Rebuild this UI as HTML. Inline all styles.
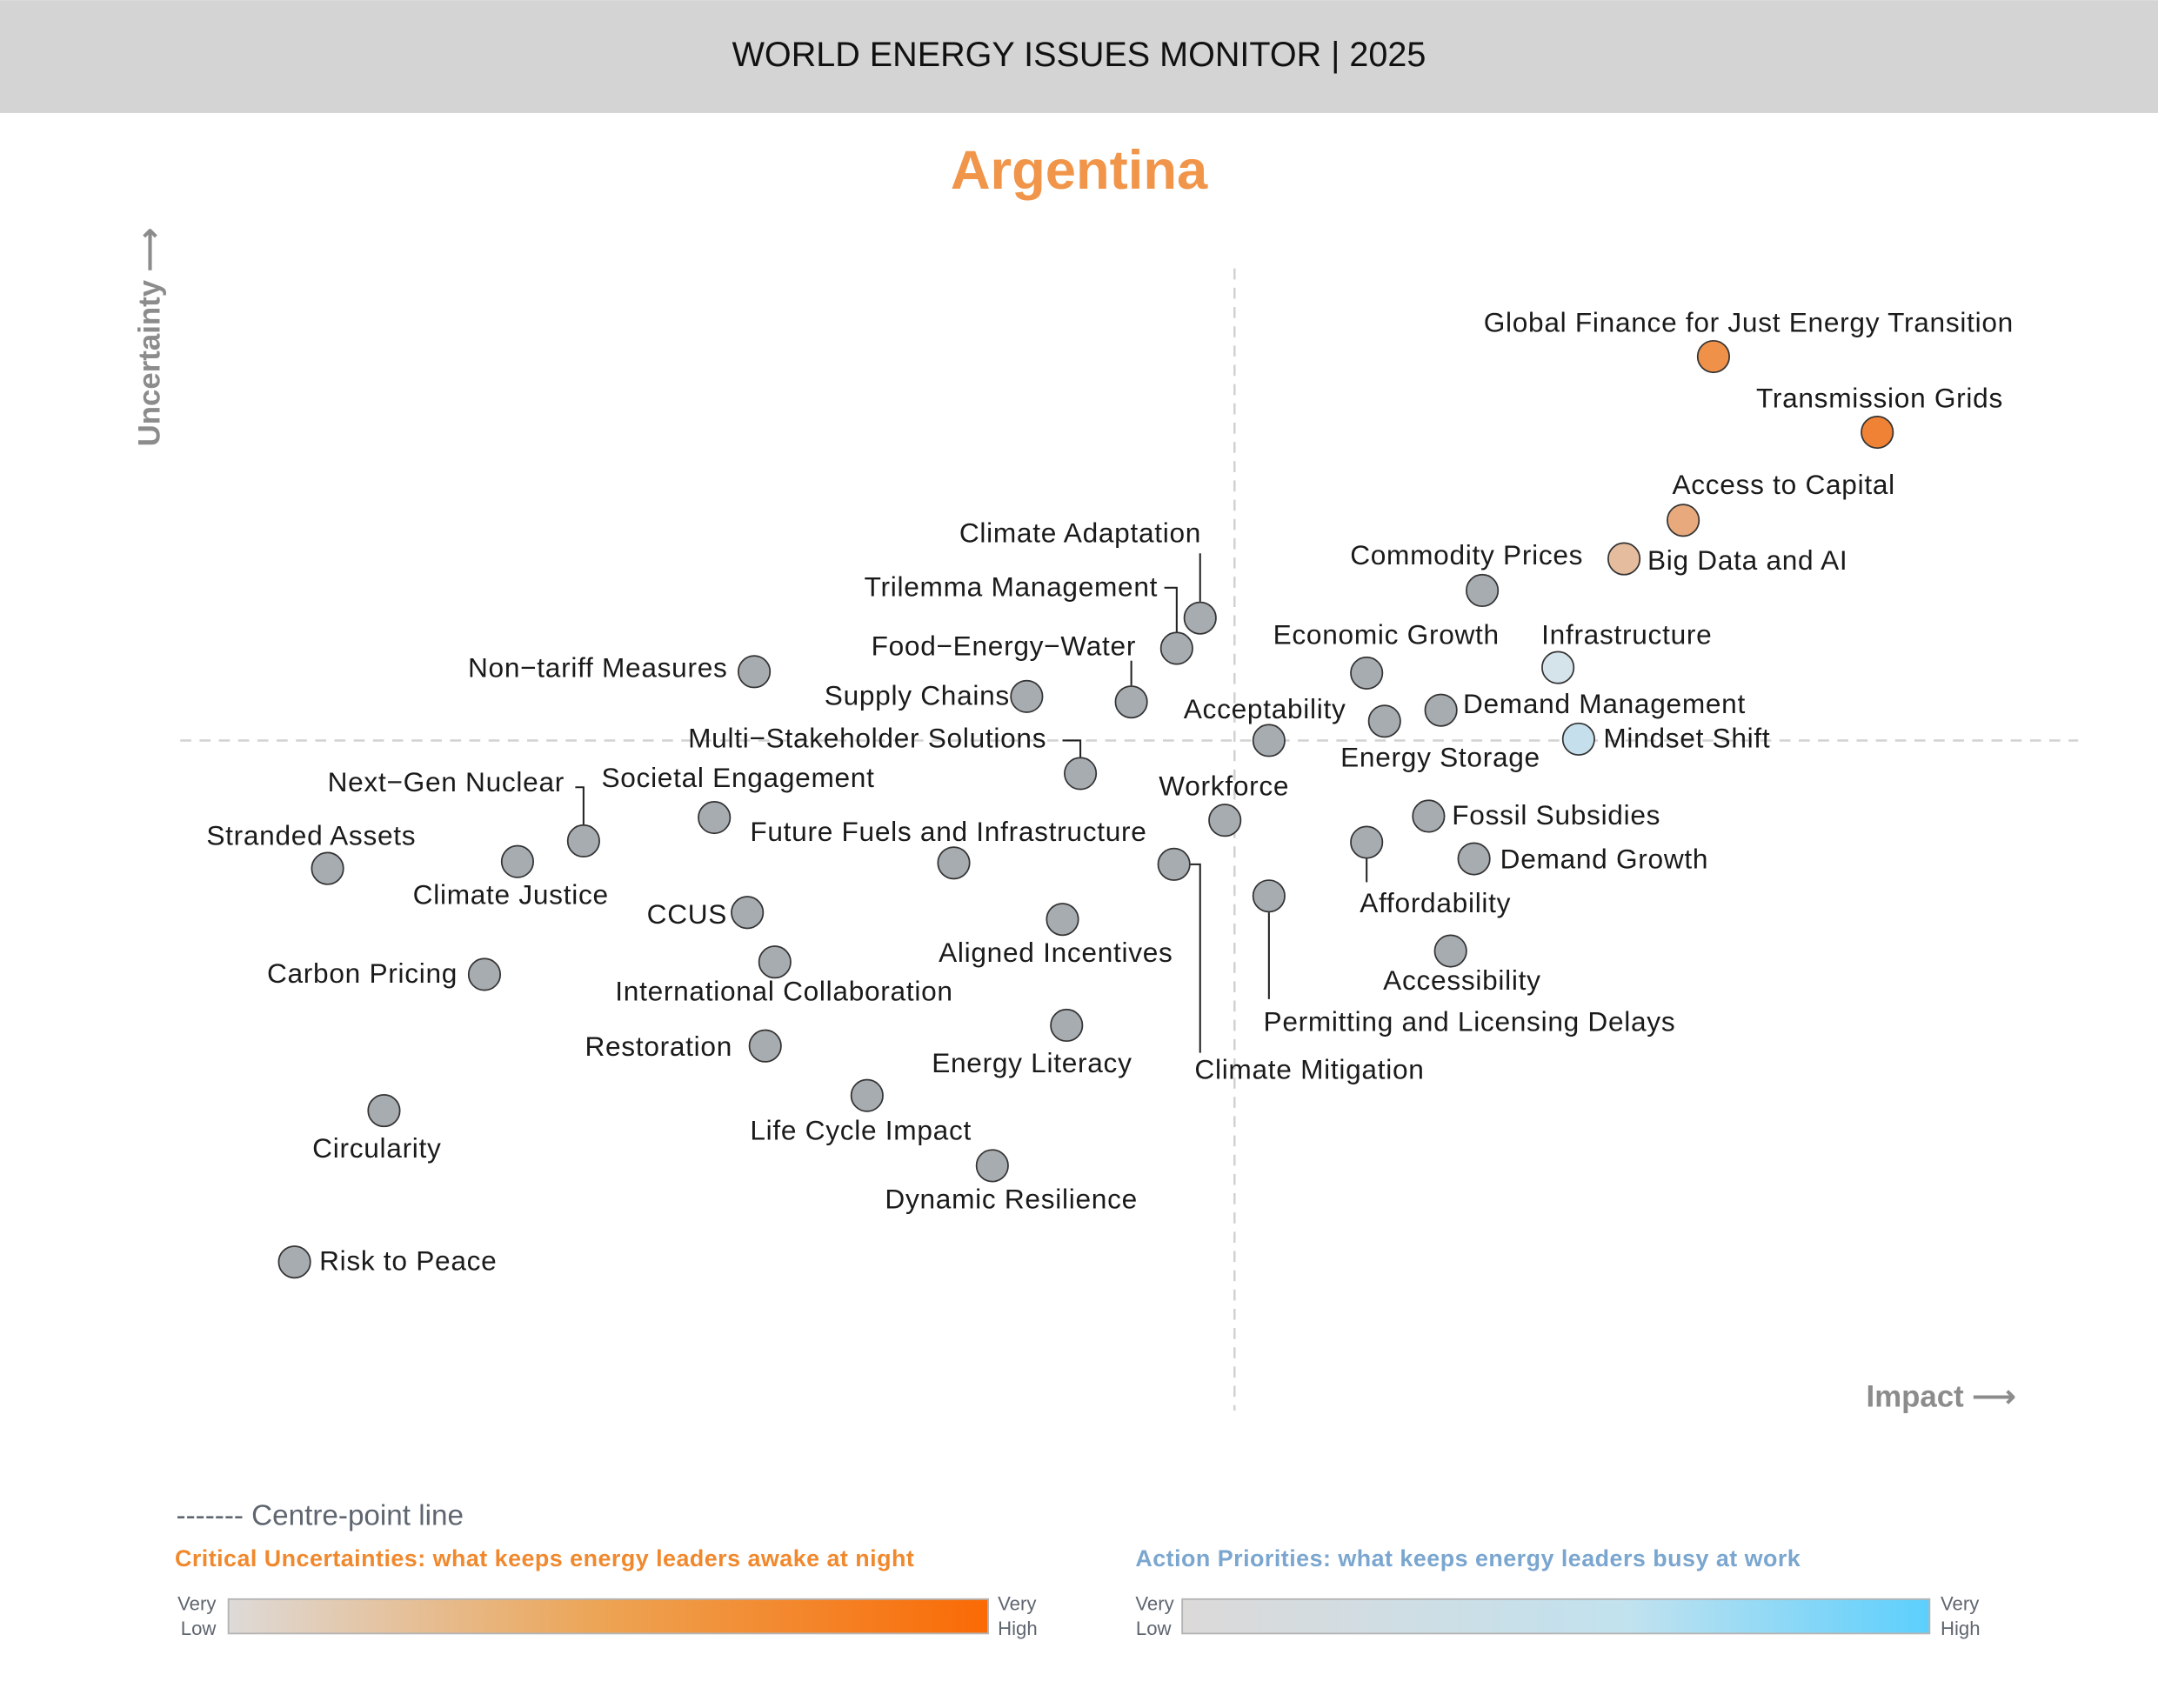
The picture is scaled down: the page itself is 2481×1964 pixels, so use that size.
<!DOCTYPE html>
<html><head><meta charset="utf-8"><style>
html,body{margin:0;padding:0;background:#fff}
svg{display:block}
text{font-family:"Liberation Sans",sans-serif}
.l{font-size:20px;fill:#1a1a1a;letter-spacing:0.45px}
.ln{stroke:#222;stroke-width:1.3;fill:none}
circle{stroke:#333;stroke-width:1.1}
.g{fill:#a7acb1}
</style></head><body>
<svg width="2481" height="1964" viewBox="0 0 1568 1241" xmlns="http://www.w3.org/2000/svg">
<defs>
<linearGradient id="go" x1="0" x2="1"><stop offset="0" stop-color="#dedad8"/><stop offset="0.5" stop-color="#eda352"/><stop offset="1" stop-color="#fa6a05"/></linearGradient>
<linearGradient id="gb" x1="0" x2="1"><stop offset="0" stop-color="#dcd9d9"/><stop offset="0.6" stop-color="#c1e2ef"/><stop offset="1" stop-color="#5ccffd"/></linearGradient>
</defs>
<rect x="0" y="0" width="1568" height="82" fill="#d4d4d4"/>
<text x="784" y="48" text-anchor="middle" font-size="25" fill="#111">WORLD ENERGY ISSUES MONITOR | 2025</text>
<text x="784" y="137" text-anchor="middle" font-size="40" font-weight="bold" fill="#f0954a">Argentina</text>
<line x1="131" y1="538" x2="1510" y2="538" stroke="#d2d2d2" stroke-width="1.6" stroke-dasharray="8,6"/>
<line x1="897" y1="195" x2="897" y2="1025" stroke="#d2d2d2" stroke-width="1.6" stroke-dasharray="8,6"/>
<text transform="translate(116,245) rotate(-90)" text-anchor="middle" font-size="22" font-weight="bold" fill="#8c8c8c">Uncertainty ⟶</text>
<text x="1356" y="1022" font-size="22" font-weight="bold" fill="#8c8c8c">Impact ⟶</text>

<path class="ln" d="M872,402 V437"/>
<path class="ln" d="M846,427 H855 V459"/>
<path class="ln" d="M822,480 V498"/>
<path class="ln" d="M772,538 H785 V550"/>
<path class="ln" d="M418,572 H424 V599"/>
<path class="ln" d="M853,628 H872 V765"/>
<path class="ln" d="M922,663 V726"/>
<path class="ln" d="M993,624 V641"/>

<g>
<circle cx="1245" cy="259" r="11.5" fill="#f0914a"/>
<circle cx="1364" cy="314" r="11.5" fill="#f08236"/>
<circle cx="1223" cy="378" r="11.5" fill="#e8a97c"/>
<circle cx="1180" cy="406" r="11.5" fill="#e5bc9e"/>
<circle cx="1132" cy="485" r="11.5" fill="#d5e3ea"/>
<circle cx="1147" cy="537" r="11.5" fill="#c5e0ec"/>
<circle class="g" cx="1077" cy="429" r="11.5"/>
<circle class="g" cx="1047" cy="516" r="11.5"/>
<circle class="g" cx="993" cy="489" r="11.5"/>
<circle class="g" cx="1006" cy="524" r="11.5"/>
<circle class="g" cx="922" cy="538" r="11.5"/>
<circle class="g" cx="872" cy="449" r="11.5"/>
<circle class="g" cx="855" cy="471" r="11.5"/>
<circle class="g" cx="822" cy="510" r="11.5"/>
<circle class="g" cx="746" cy="506" r="11.5"/>
<circle class="g" cx="548" cy="488" r="11.5"/>
<circle class="g" cx="785" cy="562" r="11.5"/>
<circle class="g" cx="519" cy="594" r="11.5"/>
<circle class="g" cx="424" cy="611" r="11.5"/>
<circle class="g" cx="238" cy="631" r="11.5"/>
<circle class="g" cx="376" cy="626" r="11.5"/>
<circle class="g" cx="693" cy="627" r="11.5"/>
<circle class="g" cx="890" cy="596" r="11.5"/>
<circle class="g" cx="853" cy="628" r="11.5"/>
<circle class="g" cx="922" cy="651" r="11.5"/>
<circle class="g" cx="1038" cy="593" r="11.5"/>
<circle class="g" cx="993" cy="612" r="11.5"/>
<circle class="g" cx="1071" cy="624" r="11.5"/>
<circle class="g" cx="1054" cy="691" r="11.5"/>
<circle class="g" cx="543" cy="663" r="11.5"/>
<circle class="g" cx="772" cy="668" r="11.5"/>
<circle class="g" cx="563" cy="699" r="11.5"/>
<circle class="g" cx="352" cy="708" r="11.5"/>
<circle class="g" cx="556" cy="760" r="11.5"/>
<circle class="g" cx="775" cy="745" r="11.5"/>
<circle class="g" cx="630" cy="796" r="11.5"/>
<circle class="g" cx="279" cy="807" r="11.5"/>
<circle class="g" cx="721" cy="847" r="11.5"/>
<circle class="g" cx="214" cy="917" r="11.5"/>
</g>

<g>
<text class="l" x="1078" y="241">Global Finance for Just Energy Transition</text>
<text class="l" x="1276" y="296">Transmission Grids</text>
<text class="l" x="1215" y="359">Access to Capital</text>
<text class="l" x="1197" y="414">Big Data and AI</text>
<text class="l" x="981" y="410">Commodity Prices</text>
<text class="l" x="1120" y="468">Infrastructure</text>
<text class="l" x="1063" y="518">Demand Management</text>
<text class="l" x="1165" y="543">Mindset Shift</text>
<text class="l" x="925" y="468">Economic Growth</text>
<text class="l" x="974" y="557">Energy Storage</text>
<text class="l" x="860" y="522">Acceptability</text>
<text class="l" x="697" y="394">Climate Adaptation</text>
<text class="l" x="628" y="433">Trilemma Management</text>
<text class="l" x="633" y="476">Food−Energy−Water</text>
<text class="l" x="599" y="512">Supply Chains</text>
<text class="l" x="340" y="492">Non−tariff Measures</text>
<text class="l" x="500" y="543">Multi−Stakeholder Solutions</text>
<text class="l" x="437" y="572">Societal Engagement</text>
<text class="l" x="238" y="575">Next−Gen Nuclear</text>
<text class="l" x="150" y="614">Stranded Assets</text>
<text class="l" x="300" y="657">Climate Justice</text>
<text class="l" x="545" y="611">Future Fuels and Infrastructure</text>
<text class="l" x="842" y="578">Workforce</text>
<text class="l" x="868" y="784">Climate Mitigation</text>
<text class="l" x="918" y="749">Permitting and Licensing Delays</text>
<text class="l" x="1055" y="599">Fossil Subsidies</text>
<text class="l" x="988" y="663">Affordability</text>
<text class="l" x="1090" y="631">Demand Growth</text>
<text class="l" x="1005" y="719">Accessibility</text>
<text class="l" x="470" y="671">CCUS</text>
<text class="l" x="682" y="699">Aligned Incentives</text>
<text class="l" x="447" y="727">International Collaboration</text>
<text class="l" x="194" y="714">Carbon Pricing</text>
<text class="l" x="425" y="767">Restoration</text>
<text class="l" x="677" y="779">Energy Literacy</text>
<text class="l" x="545" y="828">Life Cycle Impact</text>
<text class="l" x="227" y="841">Circularity</text>
<text class="l" x="643" y="878">Dynamic Resilience</text>
<text class="l" x="232" y="923">Risk to Peace</text>
</g>

<text x="128" y="1108" font-size="21" fill="#5f6670">------- Centre-point line</text>
<text x="127" y="1138" font-size="17" font-weight="bold" fill="#f0892e" letter-spacing="0.3">Critical Uncertainties: what keeps energy leaders awake at night</text>
<text x="825" y="1138" font-size="17" font-weight="bold" fill="#7aa6cf" letter-spacing="0.3">Action Priorities: what keeps energy leaders busy at work</text>
<rect x="166" y="1162" width="552" height="25" fill="url(#go)" stroke="#b5b5b5" stroke-width="1.2"/>
<rect x="859" y="1162" width="543" height="25" fill="url(#gb)" stroke="#b5b5b5" stroke-width="1.2"/>
<g font-size="14" fill="#5f6670">
<text x="157" y="1170" text-anchor="end">Very</text><text x="157" y="1188" text-anchor="end">Low</text>
<text x="725" y="1170">Very</text><text x="725" y="1188">High</text>
<text x="853" y="1170" text-anchor="end">Very</text><text x="851" y="1188" text-anchor="end">Low</text>
<text x="1410" y="1170">Very</text><text x="1410" y="1188">High</text>
</g>
</svg>
</body></html>
